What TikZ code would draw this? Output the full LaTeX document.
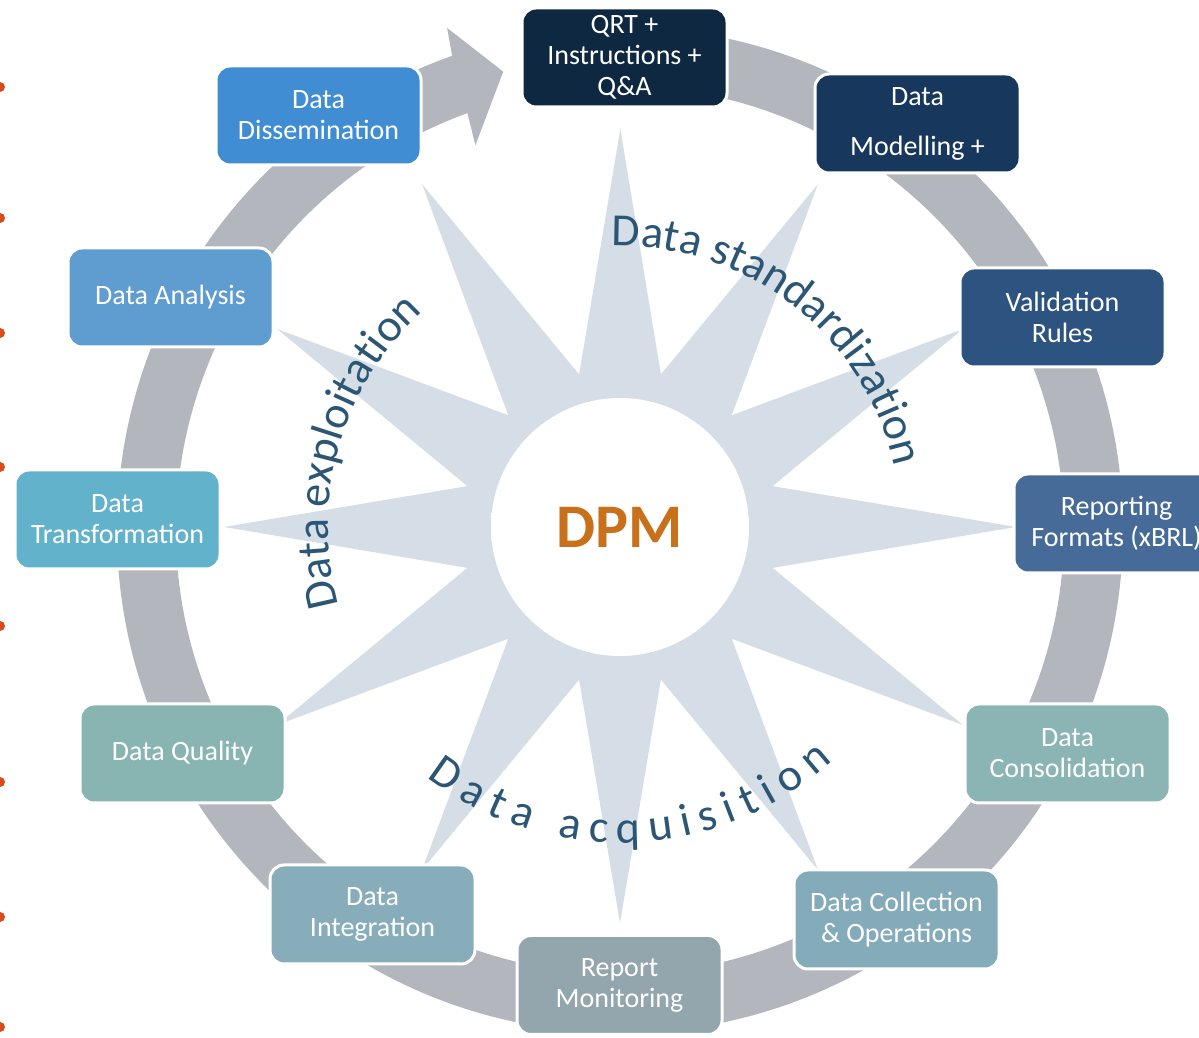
\documentclass[tikz,border=0pt]{standalone}
\usepackage{fontspec}
\setmainfont{Carlito}
\usetikzlibrary{calc,decorations.text}
\definecolor{ringc}{HTML}{B3B6BD}
\definecolor{starc}{HTML}{D5DEE6}
\definecolor{curvec}{HTML}{2C5675}
\definecolor{dpmc}{HTML}{C8701A}
\definecolor{dotc}{HTML}{D94A1C}
\definecolor{cA}{HTML}{0F2841}
\definecolor{cB}{HTML}{17385C}
\definecolor{cC}{HTML}{2D5480}
\definecolor{cD}{HTML}{466B98}
\definecolor{cE}{HTML}{8AB5B4}
\definecolor{cF}{HTML}{84ABBA}
\definecolor{cG}{HTML}{93A6AD}
\definecolor{cH}{HTML}{88ADBA}
\definecolor{cI}{HTML}{88B5B1}
\definecolor{cJ}{HTML}{63B2CB}
\definecolor{cK}{HTML}{5F9CD0}
\definecolor{cL}{HTML}{408DD4}
\pgfdeclareradialshading{glowshade}{\pgfpoint{0bp}{0bp}}{color(0bp)=(white); color(45bp)=(white); color(50bp)=(starc); color(70bp)=(starc)}
\newcommand\cvfont{\fontsize{46}{50}\selectfont}
\tikzset{
  box/.style={rounded corners=14pt, draw=white, line width=3pt,
    minimum width=205pt, minimum height=99pt, text=white, align=center,
    font=\fontsize{28}{31}\selectfont, inner sep=0pt},
  reddot/.style={fill=dotc}
}
\begin{document}
\begin{tikzpicture}[x=1pt,y=1pt]
\useasboundingbox (0,0) rectangle (1199,1038);
\fill[white] (0,0) rectangle (1199,1038);
\coordinate (R) at (620,508);
\coordinate (S) at (620,511);
% ring with arrow
\begin{scope}[shift={(R)}]
\fill[ringc] (85:503) arc[start angle=85, end angle=-250.5, radius=503]
  -- (-251:531) -- (-255.7:473) -- (-249.4:411) -- (-249.9:444)
  arc[start angle=-249.9, end angle=85, radius=444] -- cycle;
\end{scope}
% star
\begin{scope}[shift={(S)}]
\fill[starc] (90:400) \foreach \a in {0,30,...,330} { -- (75-\a:158) -- (60-\a:396) } -- cycle;
\shade[shading=glowshade] (0,0) circle[radius=129];
\node[font=\fontsize{62}{70}\selectfont\bfseries, text=dpmc] (dpm) at (0,0) {DPM};
\path[decorate, decoration={text along path, text color=curvec, text align=center,
  text={|\cvfont|Data standardization}}] (100:281) arc[start angle=100, end angle=4, radius=281];
\path[decorate, decoration={text along path, text color=curvec, text align=center,
  text={|\cvfont|Data exploitation}}] (200:292) arc[start angle=200, end angle=128, radius=292];
\path[decorate, decoration={text along path, text color=curvec, text align=fit to path,
  text={|\cvfont|Data acquisition}}] (232.3:316) arc[start angle=232.3, end angle=312.2, radius=316];
\end{scope}
% boxes
\node[box, fill=cA] (qrt) at (624.5,980.5) {QRT +\\Instructions +\\Q\&A};
\node[box, fill=cB] (model) at (917.5,914.5) {Data\\[19pt]Modelling +};
\node[box, fill=cC] (valid) at (1062.5,720.5) {Validation\\Rules};
\node[box, fill=cD] (report) at (1116.5,514.5) {Reporting\\Formats (xBRL)};
\node[box, fill=cE] (consol) at (1067.5,284.5) {Data\\Consolidation};
\node[box, fill=cF] (collect) at (896.5,118.5) {Data Collection\\\& Operations};
\node[box, fill=cG] (monitor) at (619.5,53) {Report\\Monitoring};
\node[box, fill=cH] (integ) at (372.5,123.5) {Data\\Integration};
\node[box, fill=cI] (quality) at (182.5,284.5) {Data Quality};
\node[box, fill=cJ] (transf) at (117.5,518.5) {Data\\Transformation};
\node[box, fill=cK] (analysis) at (170.5,740.5) {Data Analysis};
\node[box, fill=cL] (dissem) at (318.5,922.5) {Data\\Dissemination};
% red dots at left edge
\foreach \y/\n in {951/a,820/b,705/c,571/d,412/e,256/f,121/g,11/h}
  \fill[reddot] (0,\y) circle[radius=5];
\end{tikzpicture}
\end{document}
